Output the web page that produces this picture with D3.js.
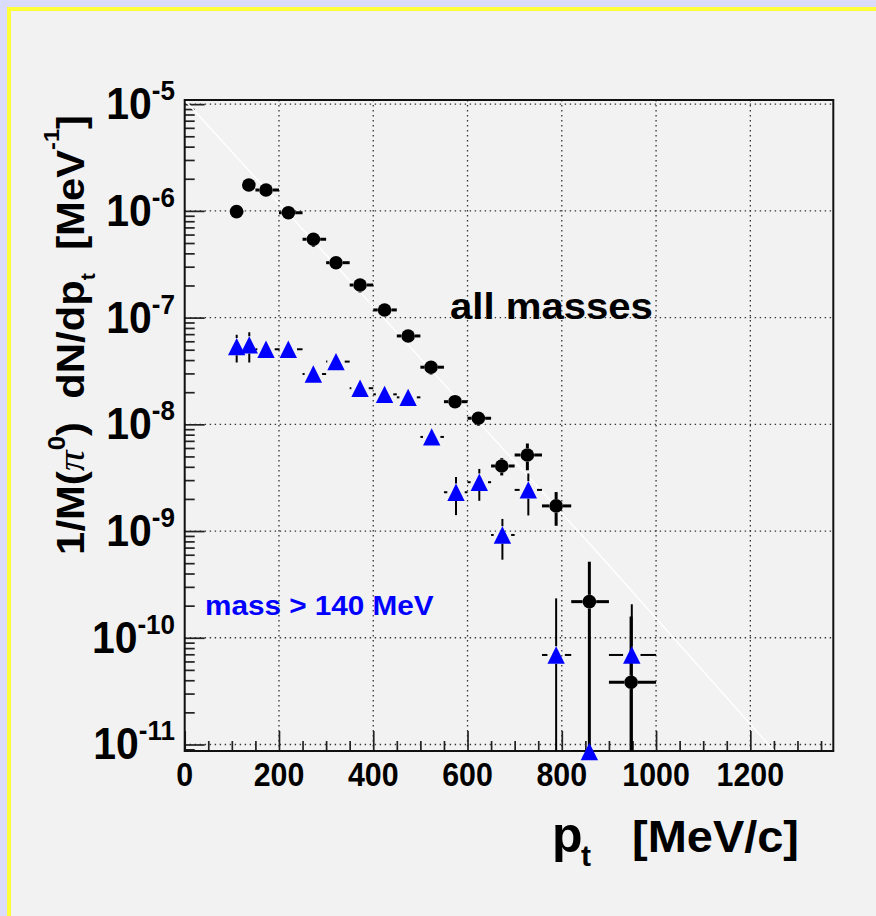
<!DOCTYPE html>
<html><head><meta charset="utf-8">
<script src="https://cdn.jsdelivr.net/npm/d3@7"></script>
<style>html,body{margin:0;padding:0;background:#f2f2f2;} svg{display:block}</style>
</head><body>
<svg id="c" width="876" height="916"></svg>
<script>
// ---------------- data ----------------
const binLo = [100,125,150,200,250,300,350,400,450,500,550,600,650,700,758,820,900];
const binHi = [125,150,200,250,300,350,400,450,500,550,600,650,700,758,820,900,1000];

// "all masses" (black circles)
const allX   = [110,136,172.5,220,273,321,372,424,474,522.6,573.5,623,672.6,727,788,858.5,947];
const allY   = [9.84e-7,1.75e-6,1.57e-6,9.62e-7,5.42e-7,3.27e-7,2.02e-7,1.18e-7,6.73e-8,3.43e-8,
                1.63e-8,1.14e-8,4.07e-9,5.16e-9,1.72e-9,2.18e-10,3.83e-11];
const allErr = [4e-8,7e-8,6e-8,1e-7,8e-8,4e-8,3e-8,1.4e-8,9e-9,5e-9,
                2e-9,1.7e-9,7.5e-10,1.45e-9,6e-10,2.98e-10,1.2e-10];

// "mass > 140 MeV" (blue triangles)
const hiX   = [110.3,137,172.5,219.8,272.9,321,372,424,474,524,575.6,625,674,729,788,858.5,948.5];
const hiY   = [5.35e-8,5.55e-8,5.05e-8,5.05e-8,2.96e-8,3.87e-8,2.18e-8,1.91e-8,1.79e-8,7.62e-9,
               2.31e-9,2.87e-9,9.19e-10,2.43e-9,6.9e-11,8.6e-12,6.9e-11];
const hiErr = [1.55e-8,1.75e-8,3e-9,3e-9,2e-9,3e-9,1.5e-9,1.3e-9,1.2e-9,5e-10,
               9e-10,9.5e-10,3.8e-10,1.03e-9,1.65e-10,0,1.37e-10];

// white fit curve
const fitX = [0,25.5,542,871,1235,1251];
const fitY = [1.09e-5,8.22e-6,2.61e-8,6.65e-10,1.04e-11,8.69e-12];

// axes
const xDomain = [0,1376];
const yDomain = [Math.pow(10,-11.061), Math.pow(10,-4.961)];
const xTickValues = [0,200,400,600,800,1000,1200];
const xTickLabels = ["0","200","400","600","800","1000","1200"];
const yTickExponents = [-5,-6,-7,-8,-9,-10,-11];

// ---------------- drawing ----------------
const W=876,H=916;
const FONT="'Liberation Sans', Arial, Helvetica, sans-serif";
const L=184.7,R=833.3,T=100,B=751;
const svg=d3.select("#c");

svg.append("rect").attr("width",W).attr("height",H).attr("fill","#dadcfa");
svg.append("rect").attr("x",7).attr("y",7).attr("width",W).attr("height",H).attr("fill","#ffff3a");
svg.append("rect").attr("x",11).attr("y",11).attr("width",W).attr("height",H).attr("fill","#f2f2f2");

const x=d3.scaleLinear(xDomain,[L,R]);
const y=d3.scaleLog(yDomain,[B,T]);

svg.append("defs").append("clipPath").attr("id","fr")
  .append("rect").attr("x",L).attr("y",T).attr("width",R-L).attr("height",B-T);

// grid
const grid=svg.append("g").attr("stroke","#333").attr("stroke-width",1.3).attr("stroke-dasharray","1.4,3.6");
xTickValues.filter(v=>v>0).forEach(v=>{
  grid.append("line").attr("x1",x(v)).attr("x2",x(v)).attr("y1",T).attr("y2",B);
});
yTickExponents.forEach(e=>{
  const v=Math.pow(10,e);
  grid.append("line").attr("x1",L).attr("x2",R).attr("y1",y(v)).attr("y2",y(v));
});

// ticks via d3 axes
const yMajor=yTickExponents.map(e=>Math.pow(10,e));
const yMinor=[];
for(let e=-12;e<=-5;e++) for(let k=2;k<=9;k++){const v=k*Math.pow(10,e); if(v>=yDomain[0]&&v<=yDomain[1]) yMinor.push(v);}
const xMajor=xTickValues;
const xMinor=d3.range(50,1376,50).filter(v=>v%200!==0);

function tickAxis(axis, tr){
  const g=svg.append("g").attr("transform",tr).call(axis);
  g.select(".domain").remove();
  g.selectAll("line").attr("stroke","#222").attr("stroke-width",1.7);
  g.selectAll("text").remove();
  return g;
}
tickAxis(d3.axisLeft(y).tickValues(yMajor).tickSize(-20).tickFormat(""),`translate(${L},0)`);
tickAxis(d3.axisLeft(y).tickValues(yMinor).tickSize(-10).tickFormat(""),`translate(${L},0)`);
tickAxis(d3.axisBottom(x).tickValues(xMajor).tickSize(-20).tickFormat(""),`translate(0,${B})`);
tickAxis(d3.axisBottom(x).tickValues(xMinor).tickSize(-10).tickFormat(""),`translate(0,${B})`);

// fit line
const lineGen=d3.line().x((d,i)=>x(fitX[i])).y((d,i)=>y(fitY[i]));
svg.append("path").attr("clip-path","url(#fr)").attr("d",lineGen(fitX))
  .attr("fill","none").attr("stroke","#ffffff").attr("stroke-width",1.4);

// frame
svg.append("rect").attr("x",L).attr("y",T).attr("width",R-L).attr("height",B-T)
  .attr("fill","none").attr("stroke","#111").attr("stroke-width",2);

// series
function drawSeries(xs,ys,errs,m,hW,vW,marker){
  const g=svg.append("g");
  const bars=g.append("g").attr("clip-path","url(#fr)").attr("stroke","#000");
  xs.forEach((xv,i)=>{
    const px=x(xv), py=y(ys[i]);
    const xl=x(binLo[i]), xr=x(binHi[i]);
    if(xl<px-m) bars.append("line").attr("x1",xl).attr("x2",px-m).attr("y1",py).attr("y2",py).attr("stroke-width",hW);
    if(xr>px+m) bars.append("line").attr("x1",px+m).attr("x2",xr).attr("y1",py).attr("y2",py).attr("stroke-width",hW);
    if(errs[i]>0){
      const top=Math.max(T,y(ys[i]+errs[i]));
      const lv=ys[i]-errs[i];
      const bot=lv>yDomain[0]?y(lv):B;
      if(top<py-m) bars.append("line").attr("x1",px).attr("x2",px).attr("y1",top).attr("y2",py-m).attr("stroke-width",vW);
      if(bot>py+m) bars.append("line").attr("x1",px).attr("x2",px).attr("y1",py+m).attr("y2",Math.min(B,bot)).attr("stroke-width",vW);
    }
  });
  xs.forEach((xv,i)=>marker(g,x(xv),y(ys[i])));
}
drawSeries(allX,allY,allErr,6.8,3,3,(g,px,py)=>{
  g.append("circle").attr("cx",px).attr("cy",py).attr("r",6.8).attr("fill","#000");
});
drawSeries(hiX,hiY,hiErr,8.7,2,2,(g,px,py)=>{
  const s=8.7;
  g.append("path").attr("d",`M${px},${py-s}L${px+s},${py+s}L${px-s},${py+s}Z`).attr("fill","#0000ff");
});

// y tick labels
yTickExponents.forEach(e=>{
  const t=svg.append("text").attr("transform",`translate(175,${y(Math.pow(10,e))+15}) scale(0.93,1)`)
    .attr("text-anchor","end").style("font-family",FONT).style("font-weight","bold").attr("fill","#000");
  t.append("tspan").style("font-size","44px").text("10");
  t.append("tspan").attr("dy",-19).style("font-size","28px").text(String(e));
});
// x tick labels
xTickValues.forEach((v,i)=>{
  svg.append("text").attr("transform",`translate(${x(v)},786) scale(0.92,1)`)
    .attr("text-anchor","middle").style("font-family",FONT).style("font-weight","bold")
    .style("font-size","33px").attr("fill","#000").text(xTickLabels[i]);
});

function fitText(t,target){
  const w=t.node().getBBox().width;
  t.attr("transform",`scale(${target/w},1)`);
}

// y title
const yt=svg.append("g").attr("transform","translate(84,115) rotate(-90)");
const ytt=yt.append("text").attr("text-anchor","end").style("font-family",FONT).style("font-weight","bold")
  .style("font-size","39px").style("white-space","pre").attr("fill","#000");
ytt.append("tspan").text("1/M(");
ytt.append("tspan").style("font-family","'Liberation Serif',serif").style("font-style","italic").style("font-weight","normal").text("π");
ytt.append("tspan").attr("dy",-19).style("font-size","24px").text("0");
ytt.append("tspan").attr("dy",19).text(")  dN/dp");
ytt.append("tspan").attr("dy",11).style("font-size","20px").text("t");
ytt.append("tspan").attr("dy",-11).text("  [MeV");
ytt.append("tspan").attr("dy",-25).style("font-size","22px").text("-1");
ytt.append("tspan").attr("dy",25).text("]");
fitText(ytt,440);

// x title
svg.append("text").attr("x",552).attr("y",852).style("font-family",FONT).style("font-weight","bold")
  .style("font-size","50px").attr("fill","#000").text("p");
svg.append("text").attr("x",581).attr("y",866).style("font-family",FONT).style("font-weight","bold")
  .style("font-size","30px").attr("fill","#000").text("t");
const xtg=svg.append("g").attr("transform","translate(799,852)");
const xtt=xtg.append("text").attr("text-anchor","end").style("font-family",FONT).style("font-weight","bold")
  .style("font-size","44px").attr("fill","#000").text("[MeV/c]");
fitText(xtt,167);

// labels
const l1=svg.append("g").attr("transform","translate(450,319)");
const l1t=l1.append("text").style("font-family",FONT).style("font-weight","bold").style("font-size","37px")
  .attr("fill","#000").text("all masses");
fitText(l1t,203);
const l2=svg.append("g").attr("transform","translate(205,615)");
const l2t=l2.append("text").style("font-family",FONT).style("font-weight","bold").style("font-size","28px")
  .attr("fill","#0000ff").text("mass > 140 MeV");
fitText(l2t,229);
</script>
</body></html>
